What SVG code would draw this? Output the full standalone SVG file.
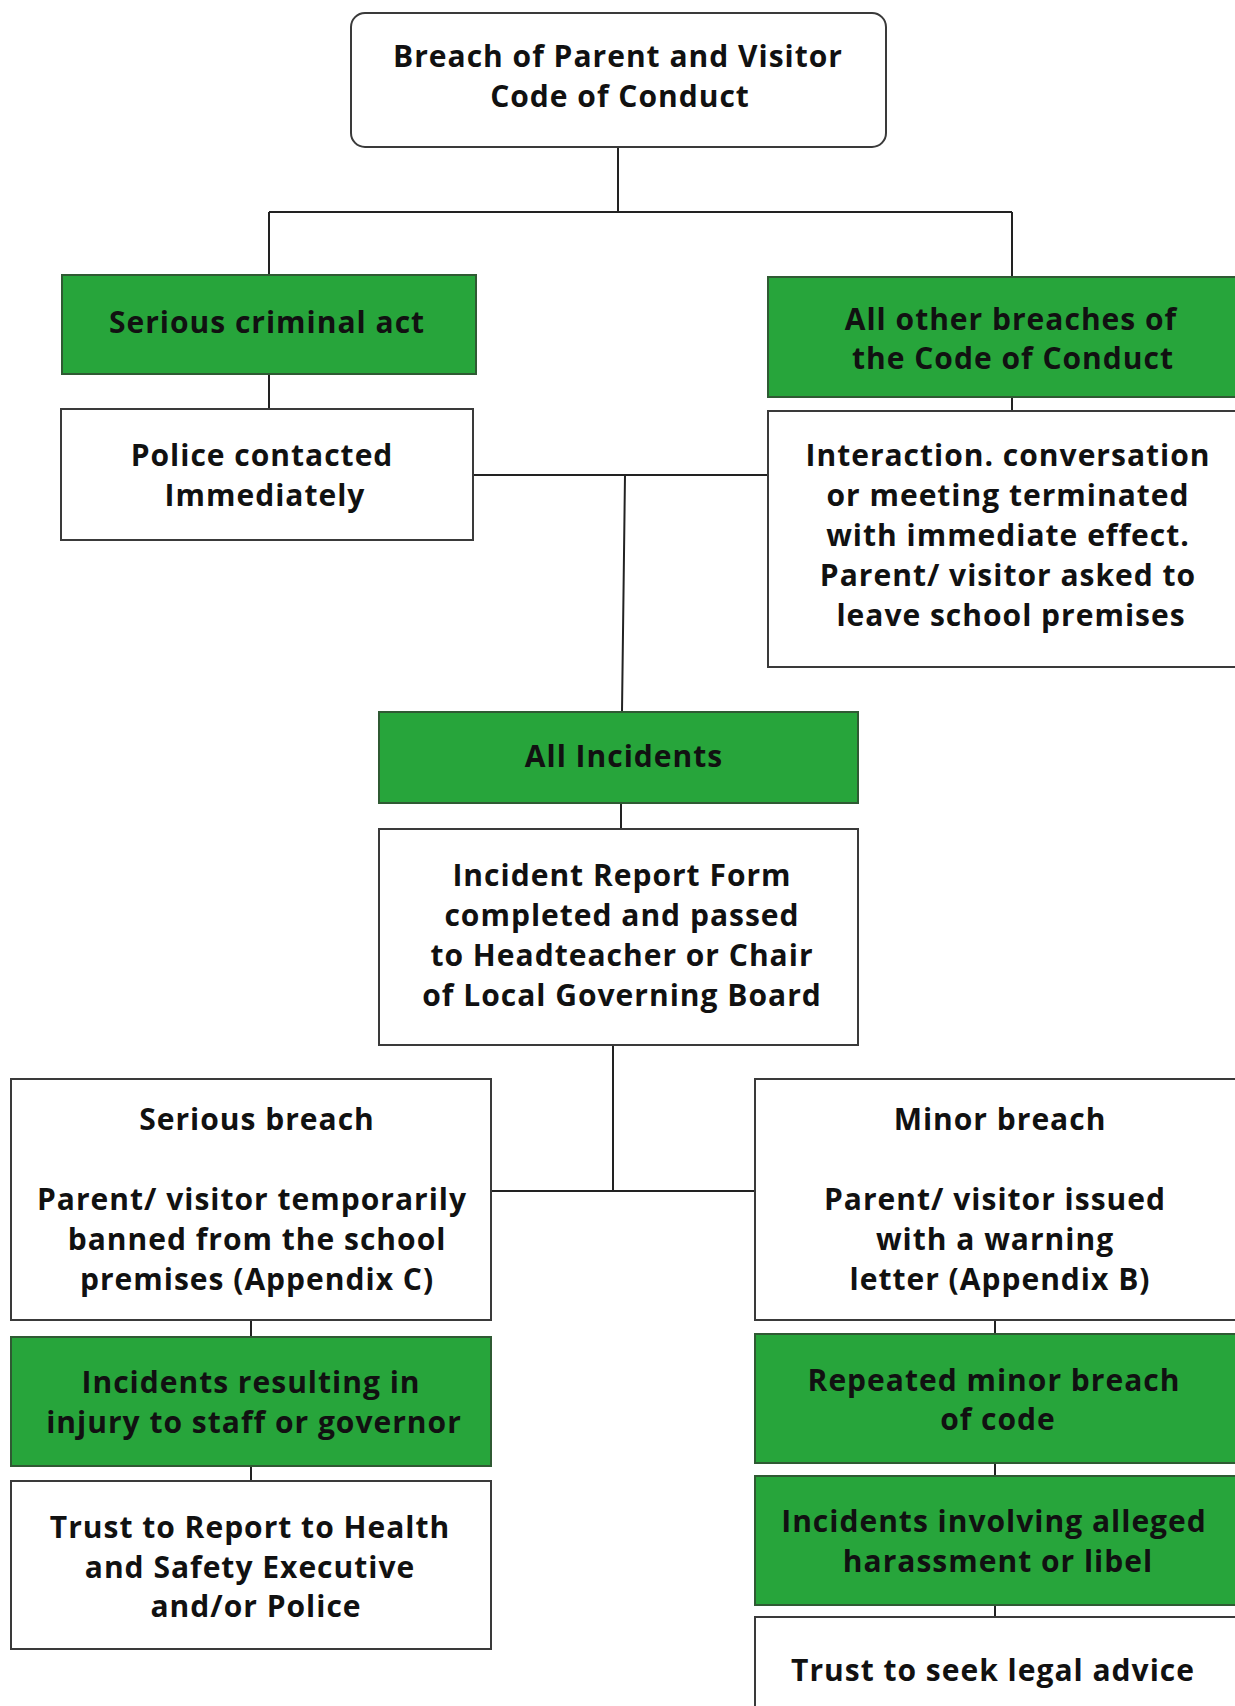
<svg xmlns="http://www.w3.org/2000/svg" width="1235" height="1706" viewBox="0 0 1235 1706">
<style>
.w{fill:#ffffff;stroke:#3a3a3a;stroke-width:2}
.g{fill:#27a53b;stroke:#2f5a33;stroke-width:2}
.t{font-family:"Open Sans","Liberation Sans",sans-serif;font-weight:700;font-size:30px;letter-spacing:1px;fill:#111;text-anchor:middle}
.c{fill:none;stroke:#222;stroke-width:2}
</style>
<rect x="0" y="0" width="1235" height="1706" fill="#ffffff"/>
<g id="connectors">
<path class="c" d="M618 147 V212 M269 212 H1012 M269 212 V275 M1012 212 V277"/>
<path class="c" d="M269 374 V409 M1012 397 V411"/>
<path class="c" d="M473 475 H768 M625 475 L622 712"/>
<path class="c" d="M621 803 V829"/>
<path class="c" d="M613 1045 V1191 M491 1191 H755"/>
<path class="c" d="M251 1320 V1337 M251 1466 V1481"/>
<path class="c" d="M995 1320 V1334 M995 1463 V1476 M995 1605 V1617"/>
</g>
<g id="n1"><rect class="w" x="351" y="13" width="535" height="134" rx="14"/>
<text class="t" x="618" y="67">Breach of Parent and Visitor</text><text class="t" x="620" y="107">Code of Conduct</text></g>
<g id="n2"><rect class="g" x="62" y="275" width="414" height="99"/>
<text class="t" x="267" y="333">Serious criminal act</text></g>
<g id="n3"><rect class="g" x="768" y="277" width="470" height="120"/>
<text class="t" x="1011" y="330">All other breaches of</text><text class="t" x="1013" y="369">the Code of Conduct</text></g>
<g id="n4"><rect class="w" x="61" y="409" width="412" height="131"/>
<text class="t" x="262" y="466">Police contacted</text><text class="t" x="265" y="506">Immediately</text></g>
<g id="n5"><rect class="w" x="768" y="411" width="470" height="256"/>
<text class="t" x="1008" y="466">Interaction. conversation</text><text class="t" x="1008" y="506">or meeting terminated</text><text class="t" x="1008" y="546">with immediate effect.</text><text class="t" x="1008" y="586">Parent/ visitor asked to</text><text class="t" x="1011" y="626">leave school premises</text></g>
<g id="n6"><rect class="g" x="379" y="712" width="479" height="91"/>
<text class="t" x="624" y="767">All Incidents</text></g>
<g id="n7"><rect class="w" x="379" y="829" width="479" height="216"/>
<text class="t" x="622" y="886">Incident Report Form</text><text class="t" x="622" y="926">completed and passed</text><text class="t" x="622" y="966">to Headteacher or Chair</text><text class="t" x="622" y="1006">of Local Governing Board</text></g>
<g id="n8"><rect class="w" x="11" y="1079" width="480" height="241"/>
<text class="t" x="257" y="1130">Serious breach</text><text class="t" x="252" y="1210">Parent/ visitor temporarily</text><text class="t" x="257" y="1250">banned from the school</text><text class="t" x="257" y="1290">premises (Appendix C)</text></g>
<g id="n9"><rect class="w" x="755" y="1079" width="483" height="241"/>
<text class="t" x="1000" y="1130">Minor breach</text><text class="t" x="995" y="1210">Parent/ visitor issued</text><text class="t" x="995" y="1250">with a warning</text><text class="t" x="1000" y="1290">letter (Appendix B)</text></g>
<g id="n10"><rect class="g" x="11" y="1337" width="480" height="129"/>
<text class="t" x="251" y="1393">Incidents resulting in</text><text class="t" x="254" y="1433">injury to staff or governor</text></g>
<g id="n11"><rect class="w" x="11" y="1481" width="480" height="168"/>
<text class="t" x="250" y="1538">Trust to Report to Health</text><text class="t" x="250" y="1578">and Safety Executive</text><text class="t" x="256" y="1617">and/or Police</text></g>
<g id="n12"><rect class="g" x="755" y="1334" width="483" height="129"/>
<text class="t" x="994" y="1391">Repeated minor breach</text><text class="t" x="998" y="1430">of code</text></g>
<g id="n13"><rect class="g" x="755" y="1476" width="483" height="129"/>
<text class="t" x="994" y="1532">Incidents involving alleged</text><text class="t" x="998" y="1572">harassment or libel</text></g>
<g id="n14"><rect class="w" x="755" y="1617" width="483" height="100"/>
<text class="t" x="993" y="1681">Trust to seek legal advice</text></g>
</svg>
